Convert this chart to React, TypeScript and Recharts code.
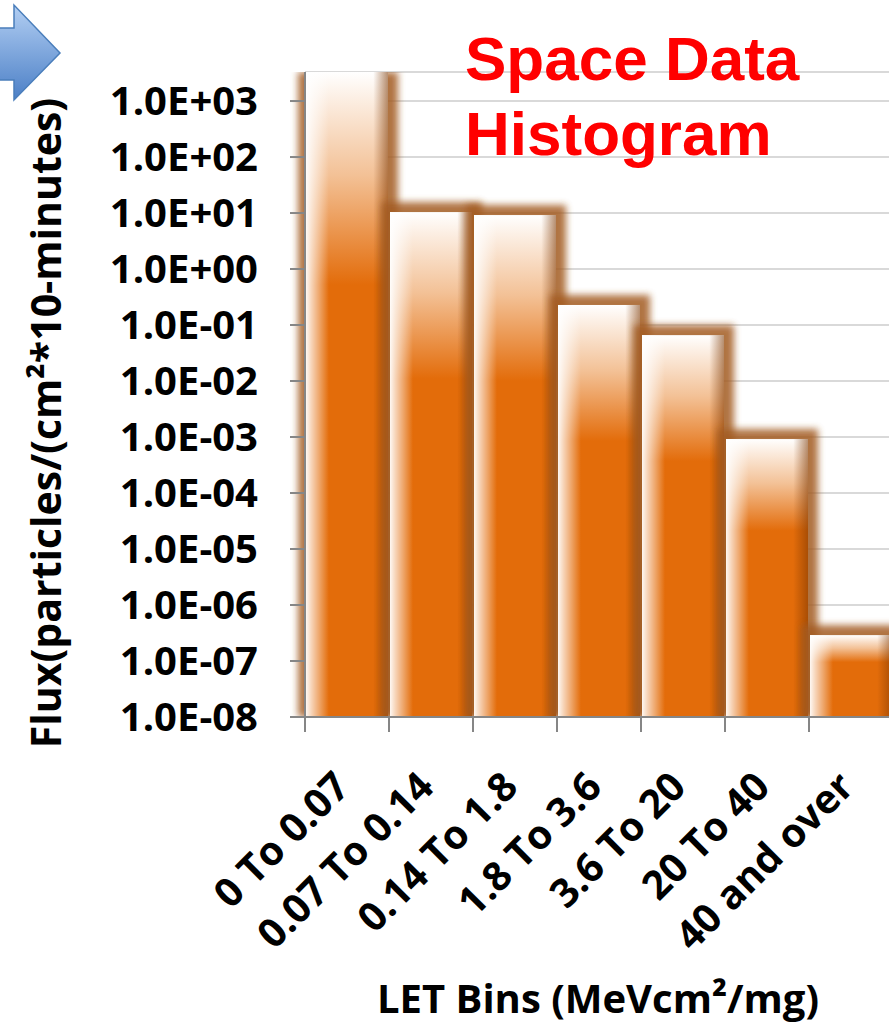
import React from 'react';
import { BarChart, Bar, XAxis, YAxis, CartesianGrid, Label } from 'recharts';

const bins = ['0 To 0.07', '0.07 To 0.14', '0.14 To 1.8', '1.8 To 3.6', '3.6 To 20', '20 To 40', '40 and over'];
const flux = [3300, 10.4, 9.2, 0.228, 0.066, 0.00092, 2.9e-7];
const yTicks = [1e-8, 1e-7, 1e-6, 1e-5, 1e-4, 1e-3, 1e-2, 1e-1, 1, 1e1, 1e2, 1e3];
const yTickLabels = [
  '1.0E-08', '1.0E-07', '1.0E-06', '1.0E-05', '1.0E-04', '1.0E-03',
  '1.0E-02', '1.0E-01', '1.0E+00', '1.0E+01', '1.0E+02', '1.0E+03',
];
const yMax = 3300;

const data = bins.map((bin, i) => ({ bin, flux: flux[i] }));

const PLOT_TOP = 72;
const FONT = '"Open Sans", Lato, sans-serif';
const AXIS = '#868686';

const FluxBar = (props: any) => {
  const { x, y, width, height, index } = props;
  if (!height || height <= 0) return null;
  const id = `fb${index}`;
  const gy = Math.max(y - 10, PLOT_TOP);
  return (
    <g>
      <defs>
        <linearGradient id={`${id}v`} x1="0" y1="0" x2="0" y2="1">
          <stop offset="0" stopColor="#ffffff" />
          <stop offset="0.04" stopColor="#fcefe4" />
          <stop offset="0.16" stopColor="#f3c196" />
          <stop offset="0.33" stopColor="#e36c0a" />
          <stop offset="1" stopColor="#e36c0a" />
        </linearGradient>
        <linearGradient id={`${id}h`} x1="0" y1="0" x2="1" y2="0">
          <stop offset="0" stopColor="#ffffff" stopOpacity={0.95} />
          <stop offset="0.07" stopColor="#ffffff" stopOpacity={0.7} />
          <stop offset="0.28" stopColor="#ffffff" stopOpacity={0} />
          <stop offset="0.82" stopColor="#7a3500" stopOpacity={0} />
          <stop offset="1" stopColor="#7a3500" stopOpacity={0.55} />
        </linearGradient>
        <filter id={`${id}f`} x="-30%" y="-30%" width="160%" height="160%">
          <feGaussianBlur stdDeviation="3.5" />
        </filter>
      </defs>
      <rect
        x={x - 8}
        y={gy}
        width={width + 18}
        height={y + height - gy}
        fill="#a35c20"
        opacity={0.85}
        filter={`url(#${id}f)`}
      />
      <rect x={x} y={y} width={width} height={height} fill={`url(#${id}v)`} />
      <rect x={x} y={y} width={width} height={height} fill={`url(#${id}h)`} />
    </g>
  );
};

const YTick = (props: any) => {
  const { x, y, payload } = props;
  const i = yTicks.indexOf(payload.value);
  return (
    <text x={x} y={y} dy="0.36em" textAnchor="end" fontFamily={FONT} fontWeight={700} fontSize={40} fill="#000">
      {i >= 0 ? yTickLabels[i] : ''}
    </text>
  );
};

const XTick = (props: any) => {
  const { x, y, payload, width, visibleTicksCount } = props;
  const half = width && visibleTicksCount ? width / visibleTicksCount / 2 : 42;
  const tx = x + 5;
  const ty = y + 72;
  return (
    <g>
      <line x1={x - half} y1={y} x2={x - half} y2={y + 15} stroke={AXIS} strokeWidth={2} />
      <text
        x={tx}
        y={ty}
        textAnchor="end"
        transform={`rotate(-45 ${tx} ${ty})`}
        fontFamily={FONT}
        fontWeight={700}
        fontSize={40}
        fill="#000"
      >
        {payload.value}
      </text>
    </g>
  );
};

const Arrow = () => (
  <svg width={80} height={110} style={{ position: 'absolute', left: 0, top: 0 }}>
    <defs>
      <linearGradient id="arrowFill" x1="0" y1="0" x2="0" y2="1">
        <stop offset="0" stopColor="#b3cff3" />
        <stop offset="1" stopColor="#4b7fc6" />
      </linearGradient>
    </defs>
    <polygon
      points="-10,28 14,28 14,5 60,53 14,100 14,80 -10,80"
      fill="url(#arrowFill)"
      stroke="#4a7ebb"
      strokeWidth={1.5}
    />
  </svg>
);

export default function App() {
  return (
    <div
      style={{
        position: 'absolute',
        left: 0,
        top: 0,
        width: 889,
        height: 1024,
        overflow: 'hidden',
        background: '#fff',
      }}
    >
      <BarChart
        width={900}
        height={1024}
        data={data}
        margin={{ top: PLOT_TOP, right: 7, bottom: 0, left: 0 }}
        barCategoryGap={1}
      >
        <CartesianGrid horizontal vertical={false} stroke="#d9d9d9" strokeWidth={2} />
        <Bar dataKey="flux" isAnimationActive={false} shape={<FluxBar />} />
        <XAxis
          dataKey="bin"
          height={307}
          axisLine={{ stroke: AXIS, strokeWidth: 2 }}
          tickLine={false}
          tickSize={0}
          tickMargin={0}
          interval={0}
          tick={<XTick />}
        >
          <Label
            content={() => (
              <text x={598} y={1013} textAnchor="middle" fontFamily={FONT} fontWeight={700} fontSize={40} fill="#000">
                LET Bins (MeVcm²/mg)
              </text>
            )}
          />
        </XAxis>
        <YAxis
          scale="log"
          domain={[1e-8, yMax]}
          allowDataOverflow
          ticks={yTicks}
          interval={0}
          width={305}
          axisLine={{ stroke: AXIS, strokeWidth: 2 }}
          tickLine={{ stroke: AXIS, strokeWidth: 2 }}
          tickSize={15}
          tickMargin={32}
          tick={<YTick />}
        >
          <Label
            content={() => (
              <text
                x={45}
                y={423}
                transform="rotate(-90 45 423)"
                textAnchor="middle"
                dominantBaseline="central"
                fontFamily={FONT}
                fontWeight={700}
                fontSize={41}
                fill="#000"
              >
                Flux(particles/(cm²*10-minutes)
              </text>
            )}
          />
        </YAxis>
      </BarChart>
      <Arrow />
      <div
        style={{
          position: 'absolute',
          left: 465,
          top: 21,
          fontFamily: '"Liberation Sans", Arial, sans-serif',
          fontWeight: 700,
          fontSize: 62,
          lineHeight: '75px',
          color: '#ff0000',
        }}
      >
        Space Data
        <br />
        Histogram
      </div>
    </div>
  );
}
